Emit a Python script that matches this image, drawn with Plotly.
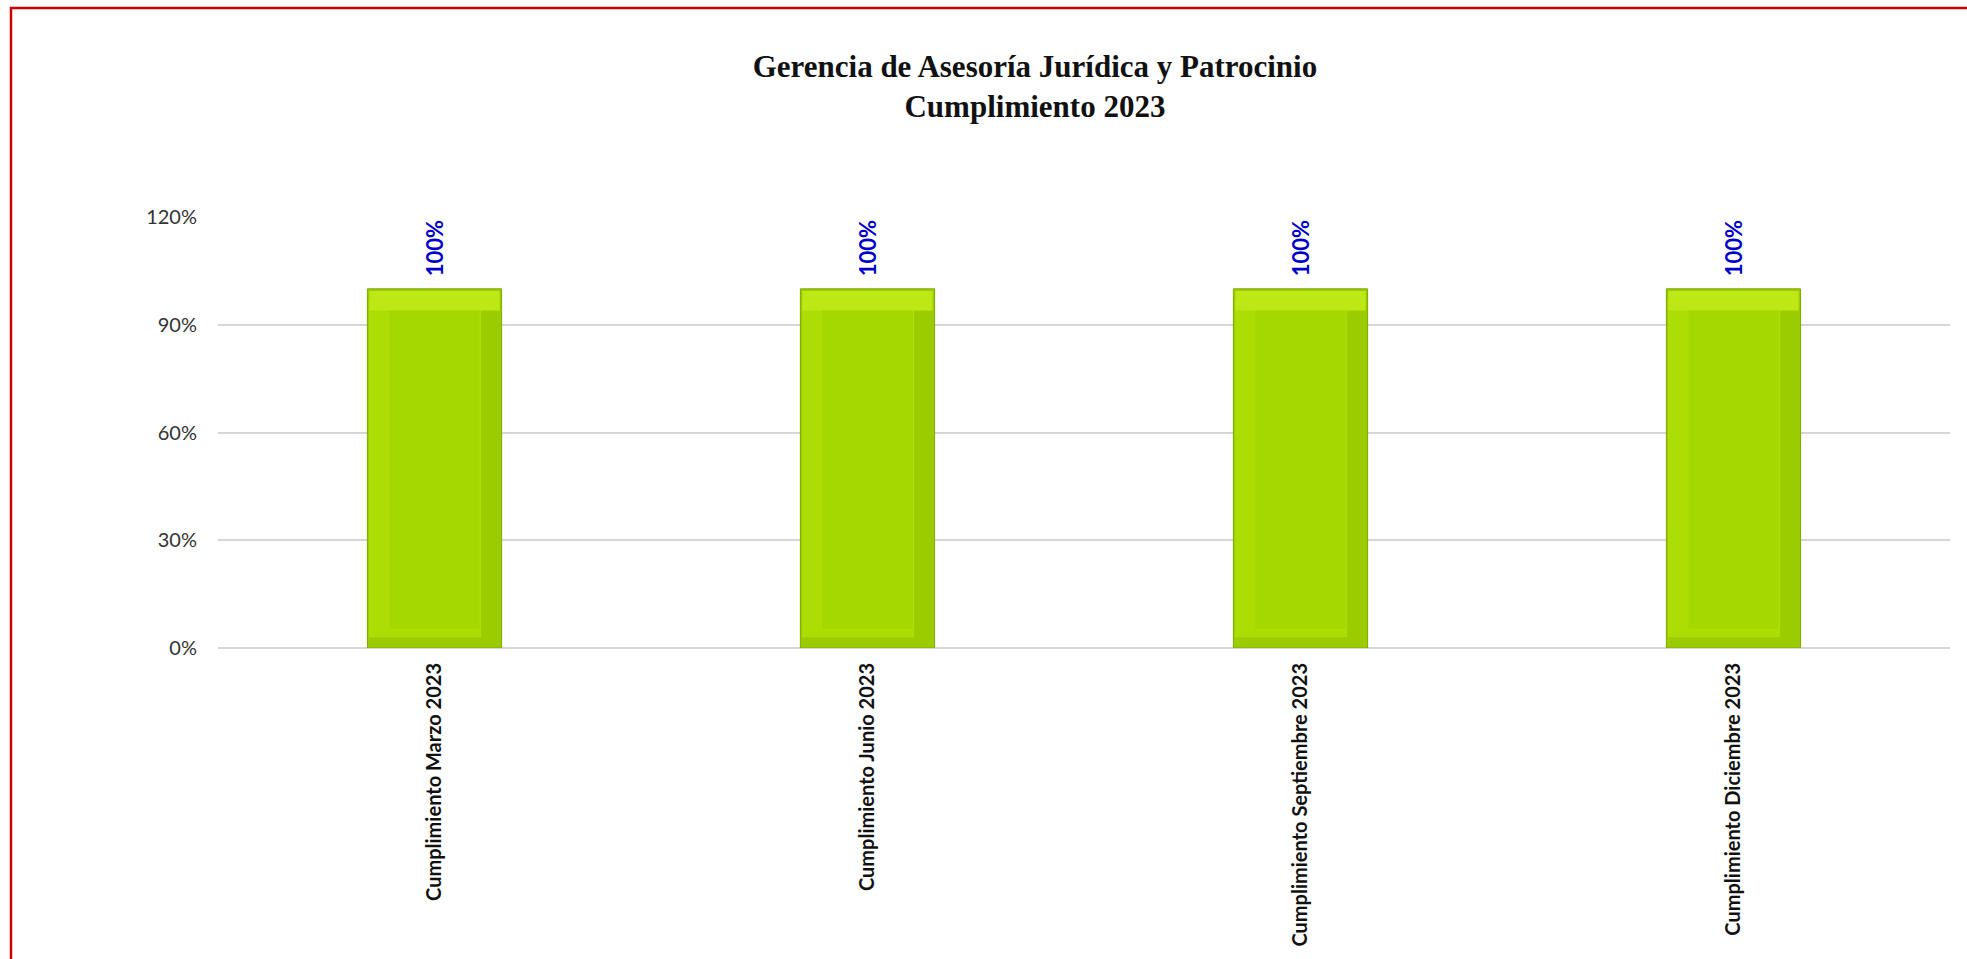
import plotly.graph_objects as go

categories = ["Cumplimiento Marzo 2023", "Cumplimiento Junio 2023",
              "Cumplimiento Septiembre 2023", "Cumplimiento Diciembre 2023"]
values = [1.0, 1.0, 1.0, 1.0]
tick_vals = [0, 0.3, 0.6, 0.9, 1.2]
tick_text = ["0%", "30%", "60%", "90%", "120%"]
title_lines = ["Gerencia de Asesoría Jurídica y Patrocinio", "Cumplimiento 2023"]

W, H = 1967, 959
ML, MR, MT, MB = 218, 17, 217, 305
PW, PH = W - ML - MR, H - MT - MB
YMAX = 1.2

def px(x):
    return (x - ML) / PW

def py(y):
    return (H - MB - y) / PH

# bevel styling (pixel sizes converted to axis units)
BAR_W = 0.31
BEV_PX = 22
bev_y = BEV_PX / PH * YMAX
bev_x = BEV_PX / (PW / len(categories))

fig = go.Figure()
# outer frame (darker right / bottom edge)
fig.add_trace(go.Bar(
    x=categories, y=values, width=BAR_W, offset=-BAR_W / 2,
    marker=dict(color="#9BCC00", line=dict(color="#7FA800", width=1)),
    hoverinfo="skip",
))
# lighter left frame
fig.add_trace(go.Bar(
    x=categories, y=[v - bev_y for v in values], base=bev_y * 0.5,
    width=BAR_W - bev_x, offset=-BAR_W / 2 + 1.5 / (PW / len(categories)),
    marker=dict(color="#ACDD04", line=dict(width=0)), hoverinfo="skip",
))
# top bevel highlight
fig.add_trace(go.Bar(
    x=categories, y=[bev_y * 0.9 for v in values], base=[v - bev_y for v in values],
    width=BAR_W - 2 / (PW / len(categories)) * 2, offset=-BAR_W / 2 + 2 / (PW / len(categories)),
    marker=dict(color="#BDE816", line=dict(width=0)), hoverinfo="skip",
))
# face
fig.add_trace(go.Bar(
    x=categories, y=[v - 1.9 * bev_y for v in values], base=bev_y * 0.9,
    width=BAR_W - 2 * bev_x, offset=-BAR_W / 2 + bev_x,
    marker=dict(color="#A4D800", line=dict(width=0)), hoverinfo="skip",
))

annotations = [dict(
    x=c, y=v, xref="x", yref="y", text=f"<b>{v*100:.0f}%</b>",
    textangle=-90, showarrow=False, xanchor="center", yanchor="bottom",
    yshift=10, font=dict(family="Lato", size=22, color="#0000CC"),
) for c, v in zip(categories, values)]

fig.update_layout(
    width=W, height=H,
    margin=dict(l=ML, r=MR, t=MT, b=MB),
    paper_bgcolor="white", plot_bgcolor="white",
    showlegend=False, barmode="overlay",
    title=dict(
        text="<br>".join(f"<b>{t}</b>" for t in title_lines),
        x=0.5 * (595 + 1055) * 1.2545 / W,
        xanchor="center", y=1 - 77 / H, yanchor="middle",
        font=dict(family="Liberation Serif", size=31, color="#111111"),
    ),
    xaxis=dict(
        tickangle=-90, showgrid=False, showline=False, ticks="",
        tickfont=dict(family="Lato", size=20, color="#111111", weight="bold"),
        ticklabelstandoff=10,
    ),
    yaxis=dict(
        range=[0, YMAX], tickvals=tick_vals, ticktext=tick_text,
        showgrid=True, gridcolor="#D6D6D6", gridwidth=2,
        zeroline=True, zerolinecolor="#D6D6D6", zerolinewidth=2,
        showline=False, ticks="",
        tickfont=dict(family="Lato", size=20, color="#333333"),
        ticklabelstandoff=20,
    ),
    annotations=annotations,
    shapes=[dict(
        type="rect", xref="paper", yref="paper",
        x0=px(11), x1=px(1990), y0=py(990), y1=py(5),
        line=dict(color="#CC0000", width=2.5), fillcolor="rgba(0,0,0,0)",
        layer="above",
    )],
)

fig.write_html("out.html", config={"displayModeBar": False},
               post_script="document.body.style.margin='0';")
